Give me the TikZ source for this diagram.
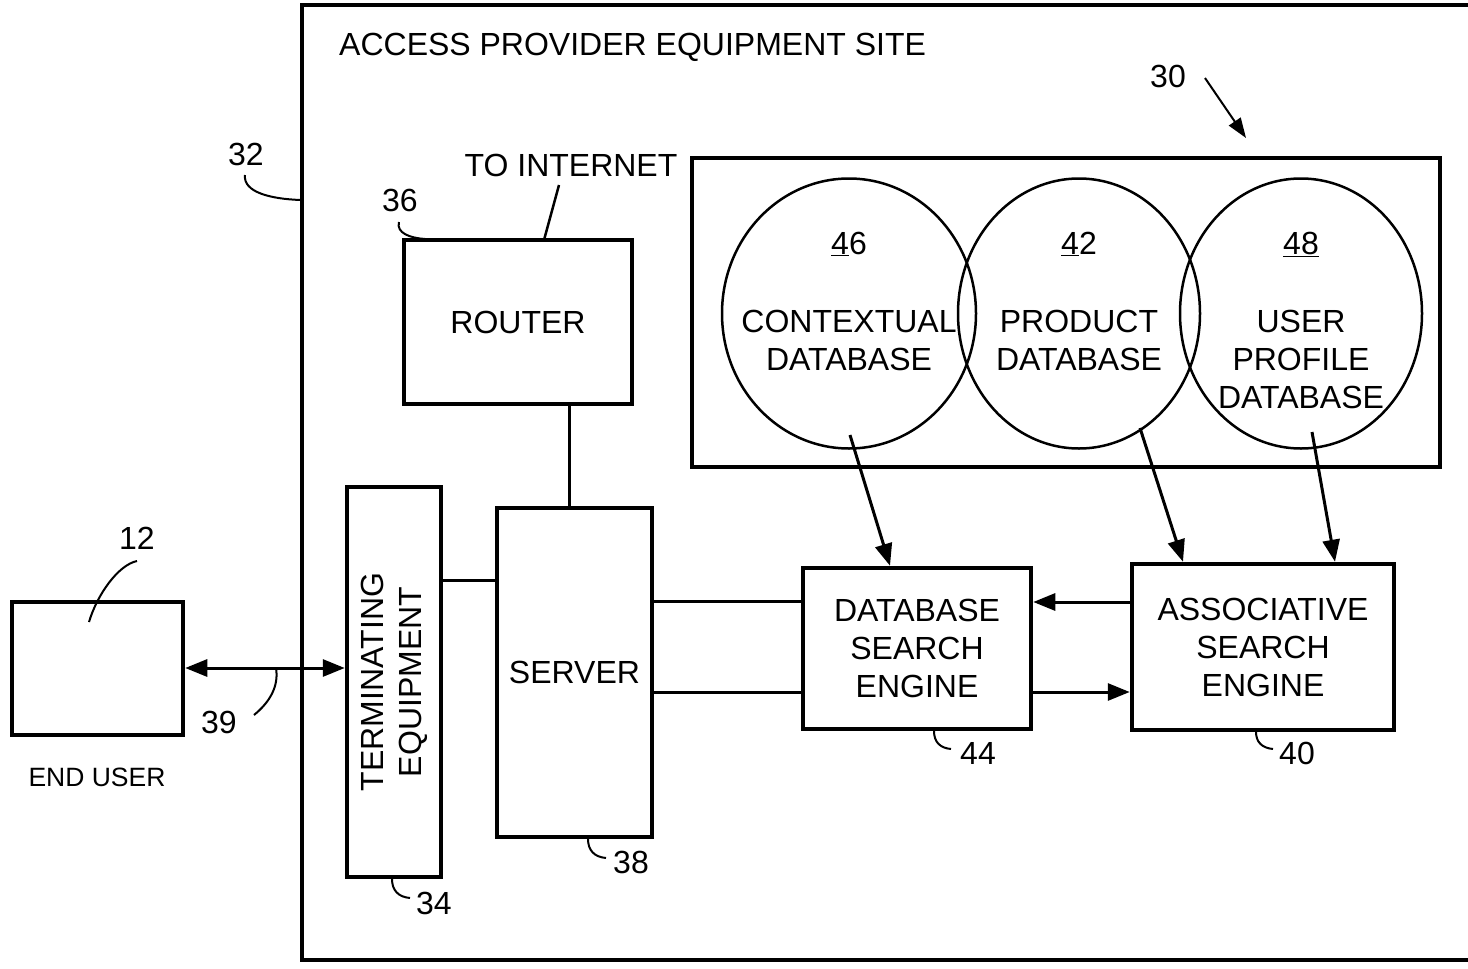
\documentclass[tikz,border=0pt]{standalone}
\usepackage{fontspec}
\setmainfont{Liberation Sans}
\usetikzlibrary{arrows.meta,shapes.geometric,calc}
\begin{document}
\begin{tikzpicture}[x=1pt,y=-1pt,
  every node/.style={font=\fontsize{32}{38}\selectfont},
  box/.style={draw, line width=4.5pt, inner sep=0pt, align=center},
  conn/.style={line width=3pt},
  arr/.style={line width=3pt, -{Triangle[length=22pt,width=17pt]}},
  darr/.style={line width=3pt, {Triangle[length=22pt,width=17pt]}-{Triangle[length=22pt,width=17pt]}},
  lead/.style={line width=2pt},
  dbell/.style={draw, ellipse, line width=2.5pt, minimum height=270pt, inner sep=0pt},
  lbl/.style={inner sep=0pt}]
\useasboundingbox (0,0) rectangle (1468,969);
\fill[white] (0,0) rectangle (1468,969);

% outer site box (open to the right)
\coordinate (otr) at (1468,5);
\coordinate (otl) at (302,5);
\coordinate (obl) at (302,960);
\coordinate (obr) at (1468,960);
\draw[line width=4pt] (otr) -- (otl) -- (obl) -- (obr);
\node[lbl, anchor=west] (site) at (339,47) {ACCESS PROVIDER EQUIPMENT SITE};

% boxes
\node[box, minimum width=228pt, minimum height=164pt] (router) at (518,322) {ROUTER};
\node[box, minimum width=155pt, minimum height=329pt] (server) at (574.5,672.5) {SERVER};
\node[box, minimum width=94pt, minimum height=390pt] (term) at (394,682) {};
\node[lbl, rotate=90, align=center] (termtext) at (term.center) {TERMINATING\\EQUIPMENT};
\node[box, minimum width=171pt, minimum height=133pt] (enduser) at (97.5,668.5) {};
\node[lbl, font=\fontsize{26.5}{32}\selectfont] (endusertxt) at (97,777) {END USER};

\node[box, minimum width=748pt, minimum height=309pt] (dbgroup) at (1066,312.5) {};
\node[dbell, minimum width=254pt] (ctx) at (849,313.5) {};
\node[dbell, minimum width=242pt] (prod) at (1079,313.5) {};
\node[dbell, minimum width=242pt] (upro) at (1301,313.5) {};
\node[lbl] (n46) at (849,244) {\underline{4}6};
\node[lbl] (n42) at (1079,244) {\underline{4}2};
\node[lbl] (n48) at (1301,244) {\underline{48}};
\node[lbl, align=center] (ctxtxt) at (849,340) {CONTEXTUAL\\DATABASE};
\node[lbl, align=center] (prodtxt) at (1079,340) {PRODUCT\\DATABASE};
\node[lbl, align=center] (uprotxt) at (1301,359) {USER\\PROFILE\\DATABASE};

\node[box, minimum width=228pt, minimum height=161pt] (dbse) at (917,648.5) {DATABASE\\SEARCH\\ENGINE};
\node[box, minimum width=262pt, minimum height=166pt] (assoc) at (1263,647) {ASSOCIATIVE\\SEARCH\\ENGINE};

% connectors
\draw[conn] ([xshift=51pt]router.south) -- ([xshift=51pt]router.south |- server.north);
\draw[conn] (term.east |- 0,580) -- (server.west |- 0,580);
\draw[conn] (server.east |- 0,601) -- (dbse.west |- 0,601);
\draw[conn] (server.east |- 0,692) -- (dbse.west |- 0,692);
\draw[arr] (assoc.west |- 0,602) -- (dbse.east |- 0,602);
\draw[arr] (dbse.east |- 0,692) -- (assoc.west |- 0,692);
\draw[darr] (enduser.east |- 0,668) -- (term.west |- 0,668);

\coordinate (ctxs) at (850,435);
\coordinate (prods) at (1140,428);
\coordinate (upros) at (1312,432);
\draw[arr] (ctxs) -- (dbse.north -| 890,0);
\draw[arr] (prods) -- (assoc.north -| 1183,0);
\draw[arr] (upros) -- (assoc.north -| 1335,0);

% reference labels and leaders
\node[lbl] (n12) at (137,538) {12};
\coordinate (l12a) at (137,561);
\coordinate (l12b) at (89,622);
\draw[lead] (l12a) .. controls (118,565) and (97,595) .. (l12b);

\node[lbl] (n39) at (219,722) {39};
\coordinate (l39a) at (254,715);
\coordinate (l39b) at (276,668);
\draw[lead] (l39a) .. controls (270,702) and (279,686) .. (l39b);

\node[lbl] (n32) at (246,154) {32};
\coordinate (l32a) at (245,175);
\coordinate (l32b) at (301,200);
\draw[lead] (l32a) .. controls (243,192) and (270,199) .. (l32b);

\node[lbl] (n36) at (400,200) {36};
\coordinate (l36a) at (399,222);
\coordinate (l36b) at (425,239);
\draw[lead] (l36a) .. controls (396,233) and (410,238) .. (l36b);

\node[lbl] (inet) at (571,165) {TO INTERNET};
\coordinate (inetb) at (544,240);
\draw[line width=2.5pt] (559,185) coordinate (ineta) -- (inetb);

\node[lbl] (n30) at (1168,76) {30};
\coordinate (a30a) at (1205,78);
\coordinate (a30b) at (1246,138);
\draw[line width=2pt, -{Triangle[length=20pt,width=14pt]}] (a30a) -- (a30b);

\node[lbl] (n34) at (434,903) {34};
\draw[lead] (392,879) coordinate (l34a) .. controls (392,890) and (398,897) .. (410,898) coordinate (l34b);
\node[lbl] (n38) at (631,862) {38};
\draw[lead] (588,839) coordinate (l38a) .. controls (588,850) and (594,857) .. (606,858) coordinate (l38b);
\node[lbl] (n44) at (978,753) {44};
\draw[lead] (934,731) coordinate (l44a) .. controls (934,742) and (940,748) .. (951,749) coordinate (l44b);
\node[lbl] (n40) at (1297,753) {40};
\draw[lead] (1256,732) coordinate (l40a) .. controls (1256,742) and (1262,748) .. (1273,749) coordinate (l40b);
\end{tikzpicture}
\end{document}
